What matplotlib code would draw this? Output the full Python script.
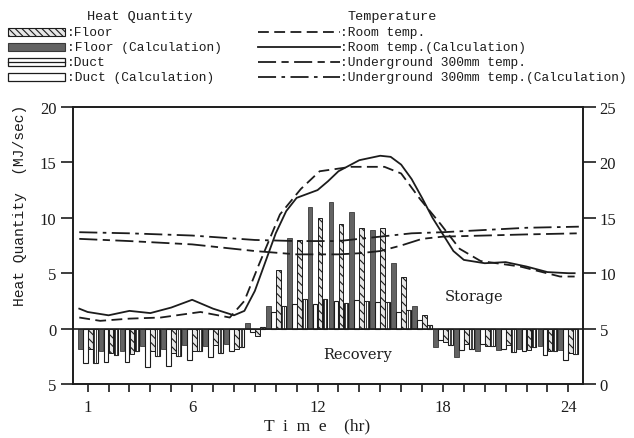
import numpy as np
import matplotlib.pyplot as plt
from matplotlib.patches import Rectangle
from matplotlib.lines import Line2D
from matplotlib.ticker import FuncFormatter

#===========================
# DATA
#===========================
# hourly heat quantity (MJ/sec) : + storage , - recovery
hours = np.arange(1, 25)
floor_calc = [-1.8, -2.0, -2.0, -1.6, -1.8, -1.5, -1.6, -1.4, 0.5, 2.0, 8.2, 11.0,
              11.4, 10.5, 8.9, 5.9, 2.0, -1.7, -2.6, -2.0, -1.9, -1.8, -1.6, -1.9]
duct_calc = [-3.1, -3.0, -3.0, -3.5, -3.4, -2.8, -2.6, -2.0, -0.3, 1.5, 2.2, 2.2,
             2.5, 2.6, 2.4, 1.5, 0.8, -1.0, -1.9, -1.4, -1.8, -2.0, -2.4, -2.8]
floor = [-1.8, -2.2, -2.3, -2.0, -2.2, -2.0, -1.5, -1.8, -0.7, 5.3, 8.0, 10.0,
         9.4, 9.1, 9.1, 4.7, 1.2, -1.2, -1.4, -1.6, -1.5, -1.9, -2.0, -2.2]
duct = [-3.1, -2.4, -2.0, -2.5, -2.5, -2.0, -2.2, -1.7, 0.1, 2.0, 2.7, 2.7,
        2.3, 2.5, 2.4, 1.7, 0.3, -1.5, -1.8, -1.6, -2.1, -1.7, -2.0, -2.3]

# temperatures (deg C)
room_h = [0.6, 1.6, 3.0, 4.5, 6.4, 7.8, 8.5, 9.2, 10.2, 11.2, 12.1, 13.6, 15.2,
          16.0, 16.9, 17.9, 18.8, 19.8, 21.7, 23.6, 24.3]
room_t = [6.0, 5.7, 5.9, 6.0, 6.5, 6.0, 7.5, 10.8, 15.3, 17.6, 19.2, 19.6, 19.6,
          19.0, 16.7, 14.4, 12.2, 11.1, 10.6, 9.7, 9.7]
room_calc_h = [0.6, 1.0, 2.0, 3.0, 4.0, 5.0, 6.0, 7.0, 8.0, 8.5, 9.0, 9.5, 10.0,
               10.5, 11.0, 12.0, 12.5, 13.0, 14.0, 15.0, 15.5, 16.0, 16.5, 17.0,
               17.5, 18.0, 18.5, 19.0, 20.0, 21.0, 22.0, 23.0, 24.0, 24.3]
room_calc_t = [6.8, 6.5, 6.2, 6.6, 6.4, 6.9, 7.6, 6.8, 6.2, 6.6, 8.4, 11.0, 13.6,
               15.6, 16.8, 17.5, 18.3, 19.2, 20.2, 20.6, 20.5, 19.8, 18.5, 16.8,
               15.0, 13.5, 12.0, 11.2, 10.9, 11.0, 10.6, 10.1, 10.0, 10.0]
ug_h = [0.6, 3, 6, 9, 11, 13, 14, 15, 16, 17, 18, 20, 22, 24.5]
ug_t = [13.1, 12.9, 12.6, 12.0, 11.7, 11.7, 11.8, 12.0, 12.5, 13.1, 13.3, 13.4,
        13.5, 13.6]
ug_calc_h = [0.6, 3, 6, 9, 11, 13, 15, 16.5, 18, 20, 22, 24.5]
ug_calc_t = [13.7, 13.6, 13.4, 13.0, 12.9, 12.9, 13.3, 13.6, 13.7, 13.9, 14.1, 14.2]

xtick_labels = {1: '1', 6: '6', 12: '12', 18: '18', 24: '24'}

#===========================
# STYLE
#===========================
INK = '#1c1c1c'
DARK = '#636363'
plt.rcParams['hatch.color'] = '#444444'
plt.rcParams['hatch.linewidth'] = 0.8
SERIF = 'Liberation Serif'
MONO = 'Liberation Mono'

W, H = 634.0, 439.0
fx = lambda px: px / W
fy = lambda py: 1 - py / H

fig = plt.figure(figsize=(6.34, 4.39), dpi=100)
ax = fig.add_axes([fx(73), fy(385), fx(583) - fx(73), fy(108) - fy(385)])
ax2 = ax.twinx()

#===========================
# BARS
#===========================
bw = 0.23
ax.bar(hours - 0.36, floor_calc, bw, color=DARK, edgecolor='#3a3a3a', linewidth=0.6, zorder=2)
ax.bar(hours - 0.12, duct_calc, bw, color='white', edgecolor=INK, linewidth=0.8, zorder=2)
ax.bar(hours + 0.12, floor, bw, color='#e6e6e6', edgecolor=INK, linewidth=0.7,
       hatch='\\\\\\\\', zorder=2)
ax.bar(hours + 0.36, duct, bw, color='white', edgecolor=INK, linewidth=0.8, zorder=2)
ax.bar(hours + 0.36, duct, bw * 0.35, color='white', edgecolor=INK, linewidth=0.6, zorder=2)
ax.axhline(0, color=INK, lw=1.2, zorder=3)

#===========================
# TEMPERATURE LINES
#===========================
ax2.plot(room_h, room_t, color=INK, lw=1.3, dashes=(6, 3))
ax2.plot(room_calc_h, room_calc_t, color=INK, lw=1.3)
ax2.plot(ug_h, ug_t, color=INK, lw=1.3, dashes=(10, 3, 4, 3))
ax2.plot(ug_calc_h, ug_calc_t, color=INK, lw=1.3, dashes=(10, 3, 2, 3))

#===========================
# AXES
#===========================
ax.set_xlim(0.3, 24.7)
ax.set_ylim(-5, 20)
ax2.set_ylim(0, 25)
ax.set_xticks(hours)
ax.set_xticklabels([xtick_labels.get(h, '') for h in hours])
ax.set_yticks([-5, 0, 5, 10, 15, 20])
ax.yaxis.set_major_formatter(FuncFormatter(lambda v, p: '%d' % abs(v)))
ax2.set_yticks([0, 5, 10, 15, 20, 25])

for a in (ax, ax2):
    for s in a.spines.values():
        s.set_linewidth(1.2)
        s.set_color(INK)
ax.tick_params(axis='y', direction='out', length=9, width=1.2, colors=INK,
               labelsize=12, pad=3)
ax2.tick_params(axis='y', direction='out', length=9, width=1.2, colors=INK,
                labelsize=12, pad=3)
ax.tick_params(axis='x', direction='out', length=6, width=1.2, colors=INK,
               labelsize=12, pad=5)
for lab in ax.get_xticklabels() + ax.get_yticklabels() + ax2.get_yticklabels():
    lab.set_family(SERIF)

fig.text(fx(317), fy(426), 'T  i  m  e    (hr)', family=SERIF, fontsize=12.5,
         ha='center', va='center', color=INK)
fig.text(fx(20), fy(205), 'Heat Quantity  (MJ/sec)', rotation=90, family=MONO,
         fontsize=10.5, ha='center', va='center', color=INK)

ax.text(19.5, 2.9, 'Storage', family='DejaVu Serif', fontsize=10.5, ha='center',
        va='center', color=INK)
ax.text(13.9, -2.3, 'Recovery', family='DejaVu Serif', fontsize=10.5, ha='center',
        va='center', color=INK)

#===========================
# LEGEND (drawn by hand)
#===========================
rows = [33, 48, 63, 78]
LFS = 9.3
fig.text(fx(87), fy(17), 'Heat Quantity', family=MONO, fontsize=LFS + 0.4, va='center', color=INK)
fig.text(fx(348), fy(17), 'Temperature', family=MONO, fontsize=LFS + 0.4, va='center', color=INK)

def leg_rect(row, **kw):
    r = Rectangle((fx(8), fy(row + 4)), fx(65) - fx(8), 8 / H,
                  transform=fig.transFigure, **kw)
    fig.add_artist(r)

leg_rect(rows[0], facecolor='#e6e6e6', edgecolor=INK, lw=0.8, hatch='\\\\\\\\\\')
leg_rect(rows[1], facecolor=DARK, edgecolor='#3a3a3a', lw=0.8)
leg_rect(rows[2], facecolor='white', edgecolor=INK, lw=0.9)
fig.add_artist(Line2D([fx(8), fx(65)], [fy(rows[2]), fy(rows[2])],
                      transform=fig.transFigure, color=INK, lw=0.9))
leg_rect(rows[3], facecolor='white', edgecolor=INK, lw=0.9)

bar_names = [':Floor', ':Floor (Calculation)', ':Duct', ':Duct (Calculation)']
for row, name in zip(rows, bar_names):
    fig.text(fx(67), fy(row), name, family=MONO, fontsize=LFS, va='center', color=INK)

line_styles = [dict(dashes=(6, 3)), dict(), dict(dashes=(10, 3, 4, 3)),
               dict(dashes=(10, 3, 2, 3))]
line_names = [':Room temp.', ':Room temp.(Calculation)', ':Underground 300mm temp.',
              ':Underground 300mm temp.(Calculation)']
for row, st, name in zip(rows, line_styles, line_names):
    fig.add_artist(Line2D([fx(258), fx(340)], [fy(row), fy(row)],
                          transform=fig.transFigure, color=INK, lw=1.3, **st))
    fig.text(fx(340), fy(row), name, family=MONO, fontsize=LFS, va='center', color=INK)

fig.savefig('out.png', dpi=100)
